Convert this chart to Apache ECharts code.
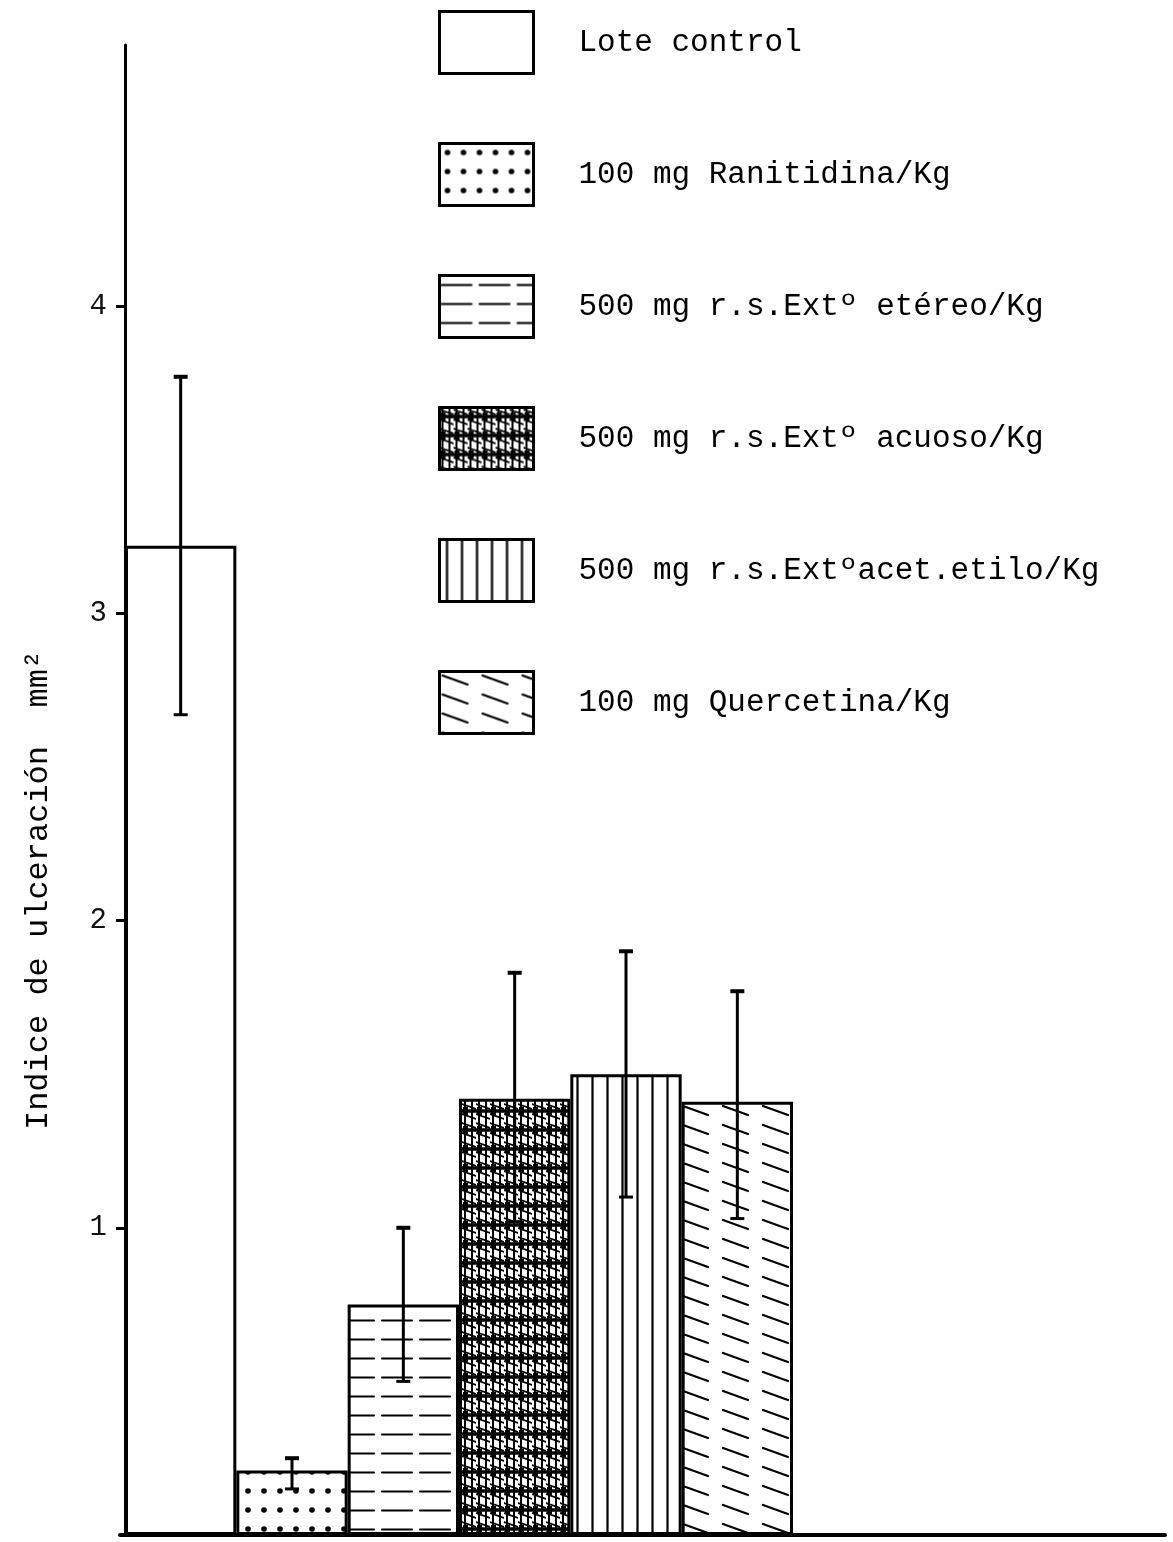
<!DOCTYPE html>
<html>
<head>
<meta charset="utf-8">
<script src="https://cdn.jsdelivr.net/npm/echarts@6/dist/echarts.min.js"></script>
<style>
html,body{margin:0;padding:0;background:#fff;}
#chart{width:1173px;height:1542px;}
</style>
</head>
<body>
<div id="chart"></div>
<script>
// ---- data ----
const categories = [
  'Lote control',
  '100 mg Ranitidina/Kg',
  '500 mg r.s.Extº etéreo/Kg',
  '500 mg r.s.Extº acuoso/Kg',
  '500 mg r.s.Extºacet.etilo/Kg',
  '100 mg Quercetina/Kg'
];
const meanValues = [3.22, 0.21, 0.75, 1.42, 1.50, 1.41];
const errorHigh  = [3.77, 0.25, 1.00, 1.83, 1.90, 1.77];
const errorLow   = [2.67, 0.15, 0.50, 1.02, 1.10, 1.03];
const yTickValues = [1, 2, 3, 4];
const yAxisTitle = 'Indice de ulceración  mm²';

// ---- patterns ----
function makeTile(w, h, draw) {
  const c = document.createElement('canvas');
  c.width = w; c.height = h;
  const g = c.getContext('2d');
  g.fillStyle = '#fff';
  g.fillRect(0, 0, w, h);
  g.strokeStyle = '#000';
  g.fillStyle = '#000';
  g.lineCap = 'round';
  draw(g);
  return { image: c, repeat: 'repeat' };
}
const patterns = [
  '#ffffff',
  makeTile(16, 19, g => { g.beginPath(); g.arc(8, 9, 2.8, 0, Math.PI * 2); g.fill(); }),
  makeTile(38, 19, g => { g.lineWidth = 2; g.beginPath(); g.moveTo(2, 9.5); g.lineTo(32, 9.5); g.stroke(); }),
  makeTile(14, 19, g => {
    g.lineWidth = 2;
    g.beginPath(); g.moveTo(3, 0); g.lineTo(3, 19); g.moveTo(10, 0); g.lineTo(10, 19); g.stroke();
    g.lineWidth = 3.5;
    g.beginPath(); g.moveTo(0, 9); g.lineTo(14, 9); g.stroke();
    g.lineWidth = 1.8;
    g.beginPath(); g.moveTo(0, 2); g.lineTo(14, 7); g.moveTo(0, 12); g.lineTo(14, 17); g.stroke();
    g.fillRect(1, 5, 5, 8);
  }),
  makeTile(15, 10, g => { g.lineWidth = 2.2; g.beginPath(); g.moveTo(7.5, 0); g.lineTo(7.5, 10); g.stroke(); }),
  makeTile(40, 19, g => { g.lineWidth = 2.2; g.beginPath(); g.moveTo(3, 4); g.lineTo(28, 13); g.stroke(); })
];

const fontFam = '"Liberation Mono", "DejaVu Sans Mono", monospace';

const barSeries = categories.map((name, i) => ({
  name: name,
  type: 'bar',
  stack: 'all',
  xAxisIndex: 0,
  yAxisIndex: 0,
  barWidth: '100%',
  data: categories.map((_, j) => (j === i ? meanValues[i] : '-')),
  itemStyle: { color: patterns[i], borderColor: '#000', borderWidth: 3 },
  emphasis: { disabled: true },
  z: 2
}));

const errorSeries = {
  type: 'custom',
  xAxisIndex: 0,
  yAxisIndex: 0,
  z: 5,
  data: categories.map((_, i) => [i, errorLow[i], errorHigh[i]]),
  encode: { x: 0, y: [1, 2] },
  renderItem: function (params, api) {
    const x = api.value(0);
    const lo = api.coord([x, api.value(1)]);
    const hi = api.coord([x, api.value(2)]);
    const cap = 7;
    return {
      type: 'group',
      children: [
        { type: 'line', shape: { x1: hi[0], y1: hi[1], x2: lo[0], y2: lo[1] }, style: { stroke: '#000', lineWidth: 3 } },
        { type: 'line', shape: { x1: hi[0] - cap, y1: hi[1], x2: hi[0] + cap, y2: hi[1] }, style: { stroke: '#000', lineWidth: 4 } },
        { type: 'line', shape: { x1: lo[0] - cap, y1: lo[1], x2: lo[0] + cap, y2: lo[1] }, style: { stroke: '#000', lineWidth: 3 } }
      ]
    };
  }
};

const chart = echarts.init(document.getElementById('chart'), null, { renderer: 'canvas' });
chart.setOption({
  backgroundColor: '#fff',
  animation: false,
  grid: [
    { left: 125, top: 45, width: 668, bottom: 7, containLabel: false },
    { left: 120, top: 45, width: 1045, bottom: 7, containLabel: false }
  ],
  legend: {
    data: categories,
    orient: 'vertical',
    left: 438,
    top: 10,
    padding: 0,
    icon: 'rect',
    itemWidth: 94,
    itemHeight: 62,
    itemGap: 67,
    selectedMode: false,
    itemStyle: { borderColor: '#000', borderWidth: 3 },
    textStyle: { fontFamily: fontFam, fontSize: 31, color: '#000', padding: [18, 0, 0, 40] }
  },
  xAxis: [
    {
      type: 'category', gridIndex: 0, data: categories,
      axisLine: { show: false }, axisTick: { show: false }, axisLabel: { show: false },
      splitLine: { show: false }
    },
    {
      type: 'value', gridIndex: 1, min: 0, max: 1,
      axisLine: { show: true, onZero: false, lineStyle: { color: '#000', width: 4 } },
      axisTick: { show: false }, axisLabel: { show: false }, splitLine: { show: false }
    }
  ],
  yAxis: [
    {
      type: 'value', gridIndex: 0, min: 0, max: 4.85, interval: 1,
      name: yAxisTitle,
      nameLocation: 'middle',
      nameGap: 70,
      nameRotate: 90,
      nameTextStyle: { fontFamily: fontFam, fontSize: 32, color: '#000', padding: [0, 200, 0, 0] },
      axisLine: { show: true, lineStyle: { color: '#000', width: 3 } },
      axisTick: { show: true, customValues: yTickValues, length: 9, lineStyle: { color: '#000', width: 3 } },
      axisLabel: { show: true, customValues: yTickValues, fontFamily: fontFam, fontSize: 29, color: '#111', margin: 18 },
      splitLine: { show: false }
    },
    {
      type: 'value', gridIndex: 1, min: 0, max: 1, show: false
    }
  ],
  series: barSeries.concat([errorSeries])
});
</script>
</body>
</html>
